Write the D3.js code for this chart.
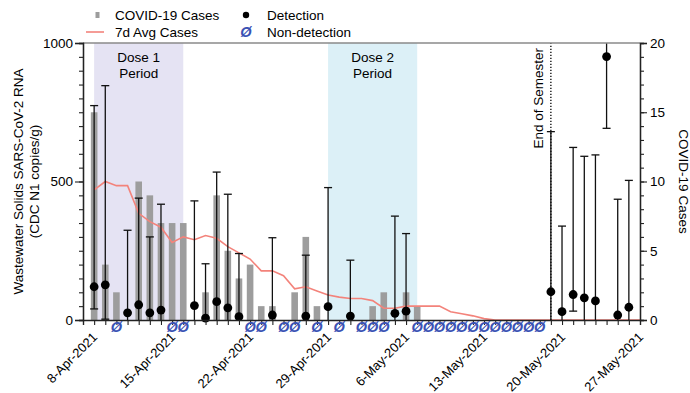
<!DOCTYPE html>
<html>
<head>
<meta charset="utf-8">
<script src="https://cdn.jsdelivr.net/npm/d3@7"></script>
<style>
  body { margin: 0; background: #fff; }
  svg { display: block; font-family: "Liberation Sans", Arial, sans-serif; }
</style>
</head>
<body>
<div id="chart"></div>
<script>
// daily covid cases + 7 day average, one value per day starting at firstDay
const firstDay = "2021-04-08";
const dailyCases = [15, 4, 2, 0, 10, 9, 7, 7, 7, 0, 2, 9, 5, 3, 4, 1, 1, 0, 2, 6, 1, 0, 0,
  0, 0, 1, 2, 0, 2, 1, 0, 0, 0, 0, 0, 0, 0, 0, 0, 0, 0, 0, 0, 0, 0, 0, 0, 0, 0, 0];
const avgCases = [9.4, 10, 9.7, 9.7, 7.7, 7.1, 6.7, 5.6, 6.0, 5.8, 6.1, 5.9, 5.3, 4.85, 4.4, 3.55, 3.55, 3.2, 2.25, 2.4, 2.1, 1.8, 1.65,
  1.55, 1.55, 1.4, 0.85, 0.85, 1.0, 1.0, 1.0, 1.0, 0.6, 0.45, 0.3, 0.1, 0, 0, 0, 0, 0, 0, 0, 0, 0, 0, 0, 0, 0, 0];

// wastewater detections (left axis)
const detDates = ["2021-04-08", "2021-04-09", "2021-04-11", "2021-04-12", "2021-04-13", "2021-04-14", "2021-04-17",
  "2021-04-18", "2021-04-19", "2021-04-20", "2021-04-21", "2021-04-24", "2021-04-27", "2021-04-29", "2021-05-01",
  "2021-05-05", "2021-05-06", "2021-05-19", "2021-05-20", "2021-05-21", "2021-05-22", "2021-05-23", "2021-05-24",
  "2021-05-25", "2021-05-26"];
const detValue = [120, 127, 26, 55, 26, 36, 52, 7, 66, 44, 12, 18, 14, 48, 14, 24, 32, 102, 30, 92, 80, 69, 951, 18, 46];
const detHigh = [774, 846, 324, 440, 300, 418, 430, 203, 534, 454, 240, 297, 234, 478, 216, 375, 312, 680, 339, 623, 591, 596, 1100, 436, 504];
const detLow = [40, 3, null, null, null, null, null, null, null, null, null, null, null, null, null,
  null, null, null, null, 32, null, null, 692, null, null];

const nonDetDates = ["2021-04-10", "2021-04-15", "2021-04-16", "2021-04-22", "2021-04-23", "2021-04-25", "2021-04-26",
  "2021-04-28", "2021-04-30", "2021-05-02", "2021-05-03", "2021-05-04", "2021-05-07", "2021-05-08", "2021-05-09",
  "2021-05-10", "2021-05-11", "2021-05-12", "2021-05-13", "2021-05-14", "2021-05-15", "2021-05-16", "2021-05-17",
  "2021-05-18"];

const labelDates = ["2021-04-08", "2021-04-15", "2021-04-22", "2021-04-29", "2021-05-06", "2021-05-13", "2021-05-20", "2021-05-27"];
const labelText = ["8-Apr-2021", "15-Apr-2021", "22-Apr-2021", "29-Apr-2021", "6-May-2021", "13-May-2021", "20-May-2021", "27-May-2021"];

const periods = [
  { name: ["Dose 1", "Period"], from: "2021-04-08", to: "2021-04-16", color: "#e5e3f3" },
  { name: ["Dose 2", "Period"], from: "2021-04-29", to: "2021-05-07", color: "#dcf0f7" }
];
const semesterEnd = "2021-05-19";

const width = 690, height = 393;
const margin = { left: 83, right: 50, top: 43, bottom: 73 };
const parse = d3.utcParse("%Y-%m-%d");

let svg = d3.select("#chart").append("svg")
  .attr("width", width)
  .attr("height", height);

let x = d3.scaleUtc()
  .domain([parse("2021-04-07"), parse("2021-05-27")])
  .range([margin.left, width - margin.right]);

let y = d3.scaleLinear()
  .domain([0, 1000])
  .range([height - margin.bottom, margin.top]);

let y2 = d3.scaleLinear()
  .domain([0, 20])
  .range([height - margin.bottom, margin.top]);

let day0 = parse(firstDay);
let days = dailyCases.map((v, i) => d3.utcDay.offset(day0, i));

svg.append("clipPath").attr("id", "plot")
  .append("rect")
  .attr("x", margin.left).attr("y", margin.top)
  .attr("width", width - margin.left - margin.right)
  .attr("height", height - margin.top - margin.bottom);

// shaded periods
periods.forEach(p => {
  svg.append("rect")
    .attr("x", x(parse(p.from)))
    .attr("y", y(1000))
    .attr("width", x(parse(p.to)) - x(parse(p.from)))
    .attr("height", y(0) - y(1000))
    .attr("fill", p.color);
  let cx = (x(parse(p.from)) + x(parse(p.to))) / 2;
  svg.append("text")
    .attr("x", cx).attr("y", 62)
    .attr("text-anchor", "middle")
    .attr("font-size", 13.5)
    .selectAll("tspan")
    .data(p.name)
    .join("tspan")
    .attr("x", cx)
    .attr("dy", (d, i) => i ? 15.5 : 0)
    .text(d => d);
});

// case bars
svg.append("g")
  .attr("fill", "#9d9d9d")
  .selectAll("rect")
  .data(days.filter((d, i) => dailyCases[i] > 0))
  .join("rect")
  .attr("x", d => x(d) - 3.3)
  .attr("width", 6.6)
  .attr("y", d => y2(dailyCases[d3.utcDay.count(day0, d)]))
  .attr("height", d => y2(0) - y2(dailyCases[d3.utcDay.count(day0, d)]));

// 7 day avg
let line = d3.line()
  .x((d, i) => x(days[i]))
  .y(d => y2(d));

svg.append("path")
  .attr("d", line(avgCases))
  .attr("fill", "none")
  .attr("stroke", "#f3837b")
  .attr("stroke-width", 1.6);

// end of semester
svg.append("line")
  .attr("x1", x(parse(semesterEnd))).attr("x2", x(parse(semesterEnd)))
  .attr("y1", y(0)).attr("y2", y(1000))
  .attr("stroke", "#000")
  .attr("stroke-width", 1.3)
  .attr("stroke-dasharray", "1.3,1.7");

svg.append("text")
  .attr("transform", `translate(${x(parse(semesterEnd)) - 8},48) rotate(-90)`)
  .attr("text-anchor", "end")
  .attr("font-size", 13.5)
  .text("End of Semester");

// error bars + detection dots
let det = detDates.map((d, i) => ({ date: parse(d), v: detValue[i], hi: detHigh[i], lo: detLow[i] }));

let err = svg.append("g")
  .attr("stroke", "#111")
  .attr("stroke-width", 1.3)
  .attr("clip-path", "url(#plot)");

err.selectAll("line.bar")
  .data(det)
  .join("line")
  .attr("class", "bar")
  .attr("x1", d => x(d.date)).attr("x2", d => x(d.date))
  .attr("y1", d => y(Math.min(d.hi, 1000)))
  .attr("y2", d => y(d.lo == null ? 0 : d.lo));

err.selectAll("line.hicap")
  .data(det.filter(d => d.hi <= 1000))
  .join("line")
  .attr("class", "hicap")
  .attr("x1", d => x(d.date) - 4).attr("x2", d => x(d.date) + 4)
  .attr("y1", d => y(d.hi)).attr("y2", d => y(d.hi));

err.selectAll("line.locap")
  .data(det.filter(d => d.lo != null))
  .join("line")
  .attr("class", "locap")
  .attr("x1", d => x(d.date) - 4).attr("x2", d => x(d.date) + 4)
  .attr("y1", d => y(d.lo)).attr("y2", d => y(d.lo));

svg.append("g")
  .selectAll("circle")
  .data(det)
  .join("circle")
  .attr("cx", d => x(d.date))
  .attr("cy", d => y(d.v))
  .attr("r", 4.4)
  .attr("fill", "#000");

// top frame line
svg.append("line")
  .attr("x1", x.range()[0]).attr("x2", x.range()[1])
  .attr("y1", y(1000)).attr("y2", y(1000))
  .attr("stroke", "#8a8a8a")
  .attr("stroke-width", 1.6);

// axes
let axisStyle = g => {
  g.select(".domain").attr("stroke", "#222").attr("stroke-width", 1.3);
  g.selectAll(".tick line").attr("stroke", "#222").attr("stroke-width", 1.1);
  g.selectAll(".tick text").attr("font-size", 13.5).attr("fill", "#000");
  g.attr("font-family", null);
};

svg.append("g")
  .attr("transform", `translate(${margin.left},0)`)
  .call(d3.axisLeft(y).tickValues(d3.range(0, 1001, 50)).tickSize(4).tickFormat(""))
  .call(axisStyle);
svg.append("g")
  .attr("transform", `translate(${margin.left},0)`)
  .call(d3.axisLeft(y).tickValues([0, 500, 1000]).tickSize(8).tickPadding(2).tickFormat(d3.format("d")))
  .call(axisStyle);

svg.append("g")
  .attr("transform", `translate(${width - margin.right},0)`)
  .call(d3.axisRight(y2).tickValues(d3.range(0, 21, 1)).tickSize(4).tickFormat(""))
  .call(axisStyle);
svg.append("g")
  .attr("transform", `translate(${width - margin.right},0)`)
  .call(d3.axisRight(y2).tickValues([0, 5, 10, 15, 20]).tickSize(7).tickPadding(3))
  .call(axisStyle);

svg.append("g")
  .attr("transform", `translate(0,${y(0)})`)
  .call(d3.axisBottom(x).ticks(d3.utcDay.every(1)).tickSize(5).tickFormat(""))
  .call(axisStyle);

svg.append("g")
  .selectAll("text")
  .data(labelDates)
  .join("text")
  .attr("transform", d => `translate(${x(parse(d)) + 4},${y(0) + 18}) rotate(-45)`)
  .attr("text-anchor", "end")
  .attr("font-size", 13)
  .text((d, i) => labelText[i]);

// non-detection markers
svg.append("g")
  .selectAll("text")
  .data(nonDetDates)
  .join("text")
  .attr("x", d => x(parse(d)))
  .attr("y", y(0) + 12)
  .attr("text-anchor", "middle")
  .attr("font-size", 14.5)
  .attr("font-weight", "bold")
  .attr("font-style", "italic")
  .attr("fill", "#3a52b4")
  .text("Ø");

// axis titles
svg.append("text")
  .attr("transform", `translate(23,${(y(0) + y(1000)) / 2}) rotate(-90)`)
  .attr("text-anchor", "middle")
  .attr("font-size", 13.5)
  .text("Wastewater Solids SARS-CoV-2 RNA");
svg.append("text")
  .attr("transform", `translate(38.5,${(y(0) + y(1000)) / 2}) rotate(-90)`)
  .attr("text-anchor", "middle")
  .attr("font-size", 13.5)
  .text("(CDC N1 copies/g)");

svg.append("text")
  .attr("transform", `translate(678.5,${(y(0) + y(1000)) / 2}) rotate(90)`)
  .attr("text-anchor", "middle")
  .attr("font-size", 13.5)
  .text("COVID-19 Cases");

// legend
let legend = svg.append("g").attr("font-size", 13.5);
legend.append("rect").attr("x", 95.5).attr("y", 12).attr("width", 4).attr("height", 6).attr("fill", "#9d9d9d");
legend.append("text").attr("x", 115).attr("y", 19.5).text("COVID-19 Cases");
legend.append("line").attr("x1", 86).attr("x2", 104).attr("y1", 32).attr("y2", 32)
  .attr("stroke", "#f3837b").attr("stroke-width", 1.6);
legend.append("text").attr("x", 115).attr("y", 36.5).text("7d Avg Cases");
legend.append("circle").attr("cx", 246).attr("cy", 15).attr("r", 3.2).attr("fill", "#000");
legend.append("text").attr("x", 267).attr("y", 19.5).text("Detection");
legend.append("text").attr("x", 246).attr("y", 37).attr("text-anchor", "middle")
  .attr("font-size", 14.5).attr("font-weight", "bold").attr("font-style", "italic")
  .attr("fill", "#3a52b4").text("Ø");
legend.append("text").attr("x", 267).attr("y", 36.5).text("Non-detection");
</script>
</body>
</html>
